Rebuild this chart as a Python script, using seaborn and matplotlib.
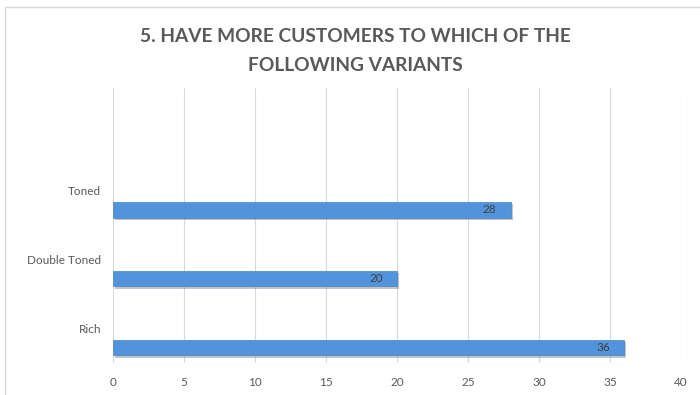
import matplotlib
matplotlib.use("Agg")
import matplotlib.pyplot as plt
import matplotlib.patheffects as pe
from matplotlib.patches import Rectangle
import seaborn as sns
import pandas as pd
import numpy as np

title = "5. HAVE MORE CUSTOMERS TO WHICH OF THE\nFOLLOWING VARIANTS"
categories = ["Toned", "Double Toned", "Rich"]
values = [28, 20, 36]
x_ticks = [0, 5, 10, 15, 20, 25, 30, 35, 40]

sns.set_theme(style="white")
plt.rcParams["font.family"] = ["Lato", "DejaVu Sans"]

df = pd.DataFrame({"variant": categories, "count": values})

fig = plt.figure(figsize=(7.0, 3.95), dpi=100)
fig.patch.set_facecolor("white")
fig.add_artist(Rectangle((5 / 700, -0.01), 1.0, 1 - 7 / 395 + 0.01, transform=fig.transFigure,
                         fill=False, edgecolor="#d9d9d9", linewidth=1.0))

ax = fig.add_axes([113 / 700, 1 - 363 / 395, (681 - 113) / 700, (363 - 88) / 395])
sns.barplot(data=df, x="count", y="variant", orient="h", order=categories,
            color="#5294db", width=0.22, ax=ax, saturation=1,
            edgecolor="#4382c8", linewidth=0.5)

for bar in ax.patches:
    bar.set_path_effects([pe.SimplePatchShadow(offset=(1.5, -1.5), shadow_rgbFace="#888888", alpha=0.5),
                          pe.Normal()])

for cont in ax.containers:
    ax.bar_label(cont, labels=[str(v) for v in values], padding=-20,
                 color="#404040", fontsize=8.5)

ax.set_xlim(0, 40)
ax.set_ylim(2.22, -1.77)
ax.set_xticks(x_ticks)
ax.set_xticklabels([str(t) for t in x_ticks])
ax.set_yticks(np.arange(len(categories)) - 0.28)
ax.set_yticklabels(categories)
ax.tick_params(axis="both", length=0, labelsize=8.5, colors="#595959")
ax.tick_params(axis="x", pad=10)
ax.tick_params(axis="y", pad=8.5)
ax.xaxis.grid(True, color="#d9d9d9", linewidth=0.8)
ax.yaxis.grid(False)
ax.set_axisbelow(True)
for s in ax.spines.values():
    s.set_visible(False)
ax.set_xlabel("")
ax.set_ylabel("")

fig.text(355 / 700, 1 - 51 / 395, title, ha="center", va="center",
         fontsize=13.8, fontweight="bold", color="#595959", linespacing=1.9)

fig.savefig("out.png", dpi=100)
